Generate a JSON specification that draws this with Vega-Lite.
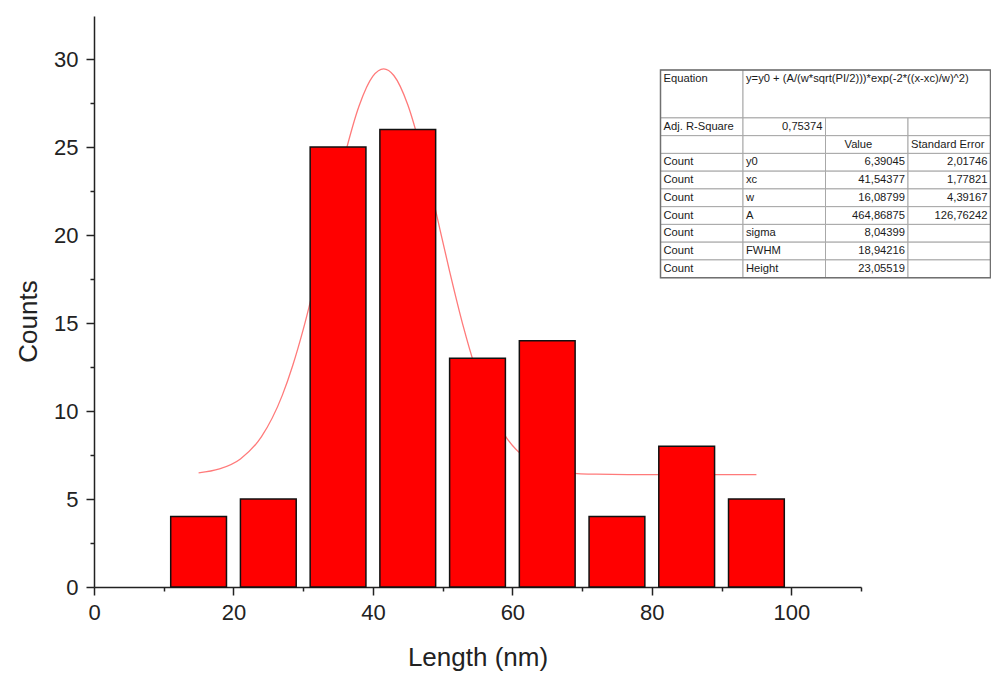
{
  "$schema": "https://vega.github.io/schema/vega-lite/v6.json",
  "width": 767,
  "height": 571,
  "autosize": {"type": "none"},
  "padding": {"left": 94, "top": 16, "right": 130, "bottom": 88},
  "background": "white",
  "config": {"view": {"stroke": null}, "font": "Liberation Sans"},
  "datasets": {
    "bars": [
      {"bin_start": 11, "bin_end": 19, "count": 4},
      {"bin_start": 21, "bin_end": 29, "count": 5},
      {"bin_start": 31, "bin_end": 39, "count": 25},
      {"bin_start": 41, "bin_end": 49, "count": 26},
      {"bin_start": 51, "bin_end": 59, "count": 13},
      {"bin_start": 61, "bin_end": 69, "count": 14},
      {"bin_start": 71, "bin_end": 79, "count": 4},
      {"bin_start": 81, "bin_end": 89, "count": 8},
      {"bin_start": 91, "bin_end": 99, "count": 5}
    ],
    "curve": [
      {"x": 15, "y": 6.49}, {"x": 18, "y": 6.71}, {"x": 21, "y": 7.28}, {"x": 24, "y": 8.53},
      {"x": 27, "y": 10.89}, {"x": 28.5, "y": 12.59}, {"x": 30, "y": 14.63}, {"x": 32, "y": 17.8},
      {"x": 34, "y": 21.25}, {"x": 36, "y": 24.58}, {"x": 38, "y": 27.32}, {"x": 40, "y": 29.03},
      {"x": 41.54, "y": 29.45}, {"x": 43, "y": 29.07}, {"x": 45, "y": 27.41}, {"x": 47, "y": 24.7},
      {"x": 49, "y": 21.39}, {"x": 51, "y": 17.94}, {"x": 53, "y": 14.75}, {"x": 54.5, "y": 12.69},
      {"x": 56, "y": 10.97}, {"x": 59, "y": 8.58}, {"x": 62, "y": 7.3}, {"x": 65, "y": 6.72},
      {"x": 68, "y": 6.49}, {"x": 72, "y": 6.41}, {"x": 78, "y": 6.39}, {"x": 85, "y": 6.39},
      {"x": 95, "y": 6.39}
    ],
    "cells": [
      {"c0": 0, "c1": 1, "r0": 0, "r1": 2.7, "text": "Equation", "kind": "text"},
      {"c0": 1, "c1": 4, "r0": 0, "r1": 2.7, "text": "y=y0 + (A/(w*sqrt(PI/2)))*exp(-2*((x-xc)/w)^2)", "kind": "text"},
      {"c0": 0, "c1": 1, "r0": 2.7, "r1": 3.7, "text": "Adj. R-Square", "kind": "text"},
      {"c0": 1, "c1": 2, "r0": 2.7, "r1": 3.7, "text": "0,75374", "kind": "number"},
      {"c0": 2, "c1": 3, "r0": 2.7, "r1": 3.7, "text": "", "kind": "text"},
      {"c0": 3, "c1": 4, "r0": 2.7, "r1": 3.7, "text": "", "kind": "text"},
      {"c0": 0, "c1": 1, "r0": 3.7, "r1": 4.7, "text": "", "kind": "text"},
      {"c0": 1, "c1": 2, "r0": 3.7, "r1": 4.7, "text": "", "kind": "text"},
      {"c0": 2, "c1": 3, "r0": 3.7, "r1": 4.7, "text": "Value", "kind": "header"},
      {"c0": 3, "c1": 4, "r0": 3.7, "r1": 4.7, "text": "Standard Error", "kind": "text"},
      {"c0": 0, "c1": 1, "r0": 4.7, "r1": 5.7, "text": "Count", "kind": "text"},
      {"c0": 1, "c1": 2, "r0": 4.7, "r1": 5.7, "text": "y0", "kind": "text"},
      {"c0": 2, "c1": 3, "r0": 4.7, "r1": 5.7, "text": "6,39045", "kind": "number"},
      {"c0": 3, "c1": 4, "r0": 4.7, "r1": 5.7, "text": "2,01746", "kind": "number"},
      {"c0": 0, "c1": 1, "r0": 5.7, "r1": 6.7, "text": "Count", "kind": "text"},
      {"c0": 1, "c1": 2, "r0": 5.7, "r1": 6.7, "text": "xc", "kind": "text"},
      {"c0": 2, "c1": 3, "r0": 5.7, "r1": 6.7, "text": "41,54377", "kind": "number"},
      {"c0": 3, "c1": 4, "r0": 5.7, "r1": 6.7, "text": "1,77821", "kind": "number"},
      {"c0": 0, "c1": 1, "r0": 6.7, "r1": 7.7, "text": "Count", "kind": "text"},
      {"c0": 1, "c1": 2, "r0": 6.7, "r1": 7.7, "text": "w", "kind": "text"},
      {"c0": 2, "c1": 3, "r0": 6.7, "r1": 7.7, "text": "16,08799", "kind": "number"},
      {"c0": 3, "c1": 4, "r0": 6.7, "r1": 7.7, "text": "4,39167", "kind": "number"},
      {"c0": 0, "c1": 1, "r0": 7.7, "r1": 8.7, "text": "Count", "kind": "text"},
      {"c0": 1, "c1": 2, "r0": 7.7, "r1": 8.7, "text": "A", "kind": "text"},
      {"c0": 2, "c1": 3, "r0": 7.7, "r1": 8.7, "text": "464,86875", "kind": "number"},
      {"c0": 3, "c1": 4, "r0": 7.7, "r1": 8.7, "text": "126,76242", "kind": "number"},
      {"c0": 0, "c1": 1, "r0": 8.7, "r1": 9.7, "text": "Count", "kind": "text"},
      {"c0": 1, "c1": 2, "r0": 8.7, "r1": 9.7, "text": "sigma", "kind": "text"},
      {"c0": 2, "c1": 3, "r0": 8.7, "r1": 9.7, "text": "8,04399", "kind": "number"},
      {"c0": 3, "c1": 4, "r0": 8.7, "r1": 9.7, "text": "", "kind": "text"},
      {"c0": 0, "c1": 1, "r0": 9.7, "r1": 10.7, "text": "Count", "kind": "text"},
      {"c0": 1, "c1": 2, "r0": 9.7, "r1": 10.7, "text": "FWHM", "kind": "text"},
      {"c0": 2, "c1": 3, "r0": 9.7, "r1": 10.7, "text": "18,94216", "kind": "number"},
      {"c0": 3, "c1": 4, "r0": 9.7, "r1": 10.7, "text": "", "kind": "text"},
      {"c0": 0, "c1": 1, "r0": 10.7, "r1": 11.7, "text": "Count", "kind": "text"},
      {"c0": 1, "c1": 2, "r0": 10.7, "r1": 11.7, "text": "Height", "kind": "text"},
      {"c0": 2, "c1": 3, "r0": 10.7, "r1": 11.7, "text": "23,05519", "kind": "number"},
      {"c0": 3, "c1": 4, "r0": 10.7, "r1": 11.7, "text": "", "kind": "text"}
    ]
  },
  "layer": [
    {
      "layer": [
        {
          "data": {"name": "curve"},
          "mark": {"type": "line", "color": "#ff7a7a", "strokeWidth": 1.3, "interpolate": "monotone"},
          "encoding": {
            "x": {
              "field": "x", "type": "quantitative", "title": "Length (nm)",
              "scale": {"domain": [0, 110], "nice": false, "zero": false},
              "axis": {
                "values": [0, 10, 20, 30, 40, 50, 60, 70, 80, 90, 100, 110],
                "labelExpr": "(datum.value % 20 === 0 && datum.value <= 100) ? datum.label : ''",
                "tickSize": {"condition": {"test": "datum.value % 20 === 0", "value": 8}, "value": 4},
                "title": "Length (nm)", "grid": false,
                "domainColor": "#222", "domainWidth": 1.5, "tickColor": "#222", "tickWidth": 1.5,
                "labelFont": "Liberation Sans", "labelFontSize": 22, "labelColor": "#222", "labelPadding": 7,
                "labelFlush": false, "labelOverlap": false,
                "titleFont": "Liberation Sans", "titleFontSize": 26, "titleFontWeight": "normal", "titleColor": "#222",
                "titleBaseline": "alphabetic", "titleY": 78
              }
            },
            "y": {
              "field": "y", "type": "quantitative", "title": "Counts",
              "scale": {"domain": [0, 32.45], "nice": false, "zero": false},
              "axis": {
                "values": [0, 2.5, 5, 7.5, 10, 12.5, 15, 17.5, 20, 22.5, 25, 27.5, 30],
                "labelExpr": "(datum.value % 5 === 0) ? datum.label : ''",
                "tickSize": {"condition": {"test": "datum.value % 5 === 0", "value": 8}, "value": 4},
                "title": "Counts", "grid": false,
                "domainColor": "#222", "domainWidth": 1.5, "tickColor": "#222", "tickWidth": 1.5,
                "labelFont": "Liberation Sans", "labelFontSize": 22, "labelColor": "#222", "labelPadding": 8,
                "labelOverlap": false, "labelFlush": false,
                "titleFont": "Liberation Sans", "titleFontSize": 26, "titleFontWeight": "normal", "titleColor": "#222",
                "titleBaseline": "middle", "titleAlign": "center", "titleX": -66, "titleY": 305
              }
            }
          }
        },
        {
          "data": {"name": "bars"},
          "mark": {"type": "rect", "fill": "#ff0000", "stroke": "#111", "strokeWidth": 1.5},
          "encoding": {
            "x": {
              "field": "bin_start", "type": "quantitative", "title": "Length (nm)",
              "scale": {"domain": [0, 110], "nice": false, "zero": false},
              "axis": {
                "values": [0, 10, 20, 30, 40, 50, 60, 70, 80, 90, 100, 110],
                "labelExpr": "(datum.value % 20 === 0 && datum.value <= 100) ? datum.label : ''",
                "tickSize": {"condition": {"test": "datum.value % 20 === 0", "value": 8}, "value": 4},
                "title": "Length (nm)", "grid": false,
                "domainColor": "#222", "domainWidth": 1.5, "tickColor": "#222", "tickWidth": 1.5,
                "labelFont": "Liberation Sans", "labelFontSize": 22, "labelColor": "#222", "labelPadding": 7,
                "labelFlush": false, "labelOverlap": false,
                "titleFont": "Liberation Sans", "titleFontSize": 26, "titleFontWeight": "normal", "titleColor": "#222",
                "titleBaseline": "alphabetic", "titleY": 78
              }
            },
            "x2": {"field": "bin_end"},
            "y": {
              "field": "count", "type": "quantitative", "title": "Counts",
              "scale": {"domain": [0, 32.45], "nice": false, "zero": false},
              "axis": {
                "values": [0, 2.5, 5, 7.5, 10, 12.5, 15, 17.5, 20, 22.5, 25, 27.5, 30],
                "labelExpr": "(datum.value % 5 === 0) ? datum.label : ''",
                "tickSize": {"condition": {"test": "datum.value % 5 === 0", "value": 8}, "value": 4},
                "title": "Counts", "grid": false,
                "domainColor": "#222", "domainWidth": 1.5, "tickColor": "#222", "tickWidth": 1.5,
                "labelFont": "Liberation Sans", "labelFontSize": 22, "labelColor": "#222", "labelPadding": 8,
                "labelOverlap": false, "labelFlush": false,
                "titleFont": "Liberation Sans", "titleFontSize": 26, "titleFontWeight": "normal", "titleColor": "#222",
                "titleBaseline": "middle", "titleAlign": "center", "titleX": -66, "titleY": 305
              }
            },
            "y2": {"datum": 0}
          }
        }
      ]
    },
    {
      "data": {"name": "cells"},
      "encoding": {
        "x": {"field": "c0", "type": "quantitative", "scale": {"domain": [-6.8667, 2.4303], "nice": false, "zero": false}, "axis": null},
        "y": {"field": "r0", "type": "quantitative", "scale": {"domain": [-3.042, 29.127], "reverse": true, "nice": false, "zero": false}, "axis": null}
      },
      "layer": [
        {
          "mark": {"type": "rect", "fill": "white", "stroke": "#a8a8a8", "strokeWidth": 1},
          "encoding": {"x2": {"field": "c1"}, "y2": {"field": "r1"}}
        },
        {
          "mark": {"type": "rect", "fill": null, "stroke": "#707070", "strokeWidth": 1.5},
          "encoding": {
            "x": {"aggregate": "min", "field": "c0", "type": "quantitative"},
            "x2": {"aggregate": "max", "field": "c1"},
            "y": {"aggregate": "min", "field": "r0", "type": "quantitative"},
            "y2": {"aggregate": "max", "field": "r1"}
          }
        },
        {
          "transform": [{"filter": "datum.kind === 'text'"}],
          "mark": {"type": "text", "align": "left", "baseline": "top", "dx": 3, "dy": 3, "font": "Liberation Sans", "fontSize": 11.2, "color": "#1a1a1a"},
          "encoding": {"text": {"field": "text"}}
        },
        {
          "transform": [{"filter": "datum.kind === 'header'"}],
          "mark": {"type": "text", "align": "left", "baseline": "top", "dx": 19, "dy": 3, "font": "Liberation Sans", "fontSize": 11.2, "color": "#1a1a1a"},
          "encoding": {"text": {"field": "text"}}
        },
        {
          "transform": [{"filter": "datum.kind === 'number'"}],
          "mark": {"type": "text", "align": "right", "baseline": "top", "dx": -3, "dy": 3, "font": "Liberation Sans", "fontSize": 11.2, "color": "#1a1a1a"},
          "encoding": {"x": {"field": "c1", "type": "quantitative"}, "text": {"field": "text"}}
        }
      ]
    }
  ],
  "resolve": {"scale": {"x": "independent", "y": "independent"}}
}
